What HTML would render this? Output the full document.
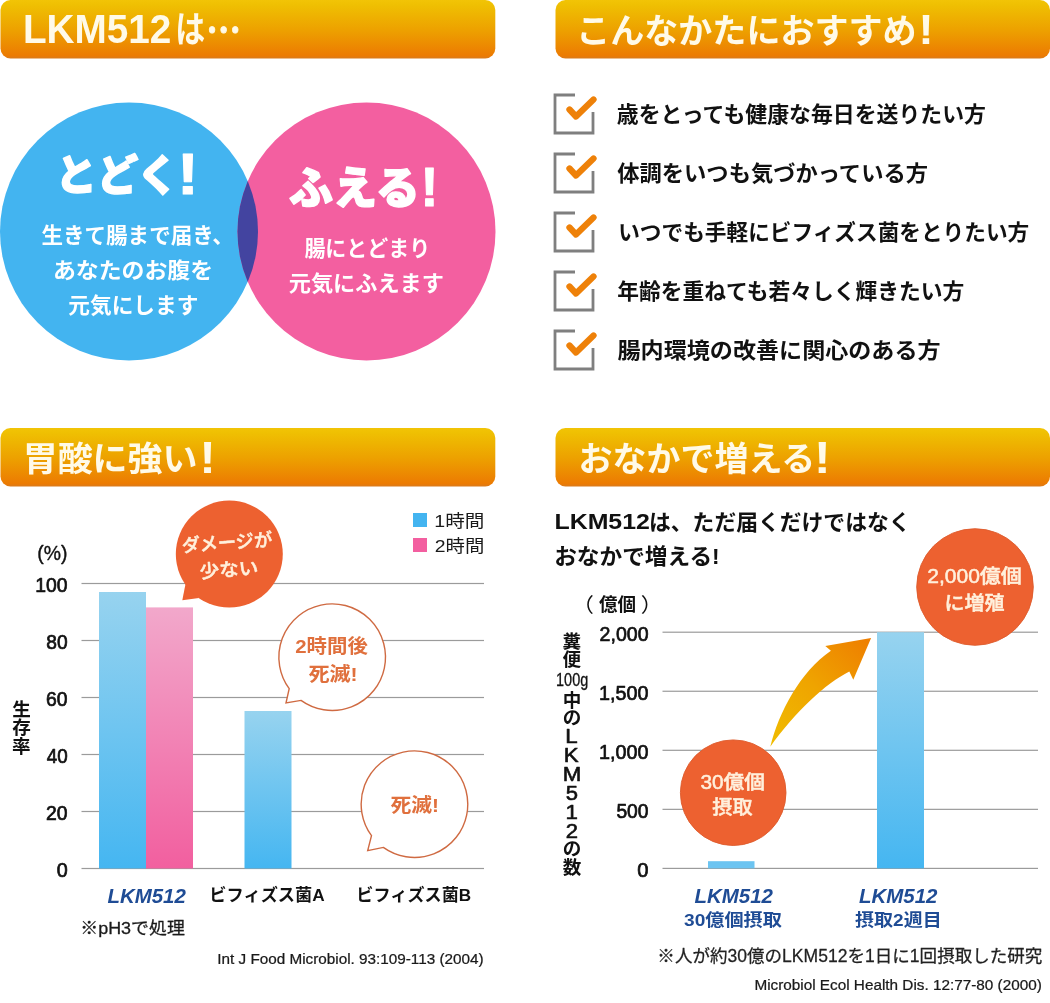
<!DOCTYPE html>
<html lang="ja">
<head>
<meta charset="utf-8">
<title>LKM512</title>
<style>
html,body{margin:0;padding:0;background:#fff;}
body{width:1050px;height:1003px;overflow:hidden;}
svg{display:block;font-family:"Liberation Sans", "Noto Sans CJK JP", sans-serif;}
text{white-space:pre;}
</style>
</head>
<body>
<svg width="1050" height="1003" viewBox="0 0 1050 1003">
<defs>
<linearGradient id="gh" x1="0" y1="0" x2="0" y2="1">
<stop offset="0" stop-color="#f2c406"/><stop offset="0.08" stop-color="#efc002"/><stop offset="0.5" stop-color="#eda200"/><stop offset="0.95" stop-color="#ec7b02"/><stop offset="1" stop-color="#d97a1c"/>
</linearGradient>
<linearGradient id="gb" x1="0" y1="0" x2="0" y2="1">
<stop offset="0" stop-color="#97d3ef"/><stop offset="1" stop-color="#45b6f1"/>
</linearGradient>
<linearGradient id="gp" x1="0" y1="0" x2="0" y2="1">
<stop offset="0" stop-color="#f2a8cb"/><stop offset="1" stop-color="#f25f9f"/>
</linearGradient>
<linearGradient id="ga" gradientUnits="userSpaceOnUse" x1="770" y1="747" x2="871" y2="638">
<stop offset="0" stop-color="#f0bd00"/><stop offset="0.5" stop-color="#efa400"/><stop offset="1" stop-color="#ee7d00"/>
</linearGradient>
<clipPath id="cpink"><circle cx="366.5" cy="231.5" r="129"/></clipPath>
</defs>
<rect x="0.5" y="0" width="494.8" height="58.5" rx="10" fill="url(#gh)"/>
<rect x="555.5" y="0" width="494.5" height="58.5" rx="10" fill="url(#gh)"/>
<rect x="0.5" y="428" width="494.8" height="58.5" rx="10" fill="url(#gh)"/>
<rect x="555.5" y="428" width="494.5" height="58.5" rx="10" fill="url(#gh)"/>
<text><tspan x="22.98" y="43.49" font-size="40.85" textLength="148.42" lengthAdjust="spacingAndGlyphs" fill="#fffae8" font-weight="700">LKM512</tspan><tspan x="175.31" y="43.26" font-size="37.04" textLength="29.89" lengthAdjust="spacingAndGlyphs" fill="#fffae8" font-weight="700">は</tspan><tspan x="206.34" y="44.6" font-size="40" textLength="34.82" lengthAdjust="spacingAndGlyphs" fill="#fffae8" font-weight="700" stroke="#fffae8" stroke-width="0.8" stroke-linejoin="round" font-family='"Noto Sans CJK JP", sans-serif'>…</tspan></text>
<text><tspan x="576.3" y="42.55" font-size="34.36" textLength="340.18" lengthAdjust="spacingAndGlyphs" fill="#fffae8" font-weight="700">こんなかたにおすすめ</tspan><tspan x="918.52" y="43.9" font-size="42.03" textLength="15.1" lengthAdjust="spacingAndGlyphs" fill="#fffae8" font-weight="700">!</tspan></text>
<text><tspan x="22.68" y="471.15" font-size="33.54" textLength="174.84" lengthAdjust="spacingAndGlyphs" fill="#fffae8" font-weight="700">胃酸に強い</tspan><tspan x="199.62" y="473.2" font-size="44.06" textLength="16.21" lengthAdjust="spacingAndGlyphs" fill="#fffae8" font-weight="700">!</tspan></text>
<text><tspan x="578.49" y="470.66" font-size="34.14" textLength="236.87" lengthAdjust="spacingAndGlyphs" fill="#fffae8" font-weight="700">おなかで増える</tspan><tspan x="814" y="472.7" font-size="44.06" textLength="16.65" lengthAdjust="spacingAndGlyphs" fill="#fffae8" font-weight="700">!</tspan></text>
<circle cx="129" cy="231.5" r="129" fill="#43b4f0"/>
<circle cx="366.5" cy="231.5" r="129" fill="#f35fa0"/>
<circle cx="129" cy="231.5" r="129" fill="#4344a0" clip-path="url(#cpink)"/>
<text><tspan x="55.55" y="191.18" font-size="43.33" textLength="122.76" lengthAdjust="spacingAndGlyphs" fill="#fff" font-weight="900" stroke="#fff" stroke-width="1.4" stroke-linejoin="round">とどく</tspan><tspan x="177.34" y="194" font-size="57.25" textLength="21.31" lengthAdjust="spacingAndGlyphs" fill="#fff" font-weight="700" stroke="#fff" stroke-width="1" stroke-linejoin="round">!</tspan></text>
<text transform="translate(41.46 243.07) scale(1.0020 1)" font-size="21.5" fill="#fff" font-weight="700">生きて腸まで届き、</text>
<text transform="translate(52.94 278.42) scale(1.0647 1)" font-size="21.5" fill="#fff" font-weight="700">あなたのお腹を</text>
<text transform="translate(68.35 313.26) scale(1.0082 1)" font-size="21.5" fill="#fff" font-weight="700">元気にします</text>
<text><tspan x="288.93" y="203.8" font-size="44.22" textLength="130.77" lengthAdjust="spacingAndGlyphs" fill="#fff" font-weight="900" stroke="#fff" stroke-width="1.4" stroke-linejoin="round">ふえる</tspan><tspan x="420.44" y="206.3" font-size="55.94" textLength="17.98" lengthAdjust="spacingAndGlyphs" fill="#fff" font-weight="700" stroke="#fff" stroke-width="1" stroke-linejoin="round">!</tspan></text>
<text transform="translate(304.38 255.86) scale(0.9759 1)" font-size="21.5" fill="#fff" font-weight="700">腸にとどまり</text>
<text transform="translate(288.73 291.26) scale(1.0319 1)" font-size="21.5" fill="#fff" font-weight="700">元気にふえます</text>
<path d="M575,95 H555 V133 H593 V112" fill="none" stroke="#7f7f7f" stroke-width="2.8"/>
<path d="M569.5,109.5 L576,116.5 L593.5,99.5" fill="none" stroke="#ee8109" stroke-width="6.3" stroke-linecap="round" stroke-linejoin="round"/>
<text transform="translate(616.86 121.98) scale(1.0044 1)" font-size="21.8" fill="#111" font-weight="700">歳をとっても健康な毎日を送りたい方</text>
<path d="M575,154 H555 V192 H593 V171" fill="none" stroke="#7f7f7f" stroke-width="2.8"/>
<path d="M569.5,168.5 L576,175.5 L593.5,158.5" fill="none" stroke="#ee8109" stroke-width="6.3" stroke-linecap="round" stroke-linejoin="round"/>
<text transform="translate(617.28 180.88) scale(1.0220 1)" font-size="21.8" fill="#111" font-weight="700">体調をいつも気づかっている方</text>
<path d="M575,213 H555 V251 H593 V230" fill="none" stroke="#7f7f7f" stroke-width="2.8"/>
<path d="M569.5,227.5 L576,234.5 L593.5,217.5" fill="none" stroke="#ee8109" stroke-width="6.3" stroke-linecap="round" stroke-linejoin="round"/>
<text transform="translate(618.22 240.09) scale(0.9941 1)" font-size="21.8" fill="#111" font-weight="700">いつでも手軽にビフィズス菌をとりたい方</text>
<path d="M575,272 H555 V310 H593 V289" fill="none" stroke="#7f7f7f" stroke-width="2.8"/>
<path d="M569.5,286.5 L576,293.5 L593.5,276.5" fill="none" stroke="#ee8109" stroke-width="6.3" stroke-linecap="round" stroke-linejoin="round"/>
<text transform="translate(617.24 298.98) scale(0.9987 1)" font-size="21.8" fill="#111" font-weight="700">年齢を重ねても若々しく輝きたい方</text>
<path d="M575,331 H555 V369 H593 V348" fill="none" stroke="#7f7f7f" stroke-width="2.8"/>
<path d="M569.5,345.5 L576,352.5 L593.5,335.5" fill="none" stroke="#ee8109" stroke-width="6.3" stroke-linecap="round" stroke-linejoin="round"/>
<text transform="translate(617.54 357.98) scale(1.0593 1)" font-size="21.8" fill="#111" font-weight="700">腸内環境の改善に関心のある方</text>
<rect x="81.5" y="582.9" width="402.5" height="1.2" fill="#9b9b9b"/>
<text transform="translate(35.3 591.65) scale(0.9496 1)" font-size="20.42" fill="#111" stroke="#111" stroke-width="0.7" stroke-linejoin="round">100</text>
<rect x="81.5" y="639.9" width="402.5" height="1.2" fill="#9b9b9b"/>
<text transform="translate(46.28 648.65) scale(0.9470 1)" font-size="20.28" fill="#111" stroke="#111" stroke-width="0.7" stroke-linejoin="round">80</text>
<rect x="81.5" y="696.9" width="402.5" height="1.2" fill="#9b9b9b"/>
<text transform="translate(46.08 705.65) scale(0.9496 1)" font-size="20.42" fill="#111" stroke="#111" stroke-width="0.7" stroke-linejoin="round">60</text>
<rect x="81.5" y="753.9" width="402.5" height="1.2" fill="#9b9b9b"/>
<text transform="translate(46.67 762.65) scale(0.9226 1)" font-size="20.42" fill="#111" stroke="#111" stroke-width="0.7" stroke-linejoin="round">40</text>
<rect x="81.5" y="810.9" width="402.5" height="1.2" fill="#9b9b9b"/>
<text transform="translate(46.08 819.65) scale(0.9496 1)" font-size="20.42" fill="#111" stroke="#111" stroke-width="0.7" stroke-linejoin="round">20</text>
<rect x="81.5" y="867.9" width="402.5" height="1.2" fill="#9b9b9b"/>
<text transform="translate(56.66 876.65) scale(0.9692 1)" font-size="20.42" fill="#111" stroke="#111" stroke-width="0.7" stroke-linejoin="round">0</text>
<text transform="translate(37.34 560.24) scale(0.9323 1)" font-size="20.75" fill="#111" stroke="#111" stroke-width="0.4" stroke-linejoin="round">(%)</text>
<rect x="99" y="592" width="47" height="276.5" fill="url(#gb)"/>
<rect x="146" y="607.4" width="47" height="261.1" fill="url(#gp)"/>
<rect x="244.5" y="711" width="47" height="157.5" fill="url(#gb)"/>
<rect x="413" y="513" width="14" height="14" fill="#43b4f0"/>
<rect x="413" y="538" width="14" height="14" fill="#f35fa0"/>
<text transform="translate(434.23 526.54) scale(1.1402 1)" font-size="17.2" fill="#1a1a1a">1時間</text>
<text transform="translate(434.73 551.84) scale(1.1284 1)" font-size="17.2" fill="#1a1a1a">2時間</text>
<text><tspan x="12.19" y="715.95" font-size="18.6" textLength="18.6" lengthAdjust="spacingAndGlyphs" fill="#111" font-weight="700">生</tspan><tspan x="12.19" y="734.27" font-size="18.6" textLength="18.6" lengthAdjust="spacingAndGlyphs" fill="#111" font-weight="700">存</tspan><tspan x="12.05" y="752.87" font-size="18.6" textLength="18.6" lengthAdjust="spacingAndGlyphs" fill="#111" font-weight="700">率</tspan></text>
<path d="M182.3,600.3 L185.5,584 L199,598 Z" fill="#ed6130"/><circle cx="229.3" cy="554.1" r="53.5" fill="#ed6130"/>
<g transform="rotate(-4 229 554)"><text transform="translate(182.42 549.01) scale(0.9913 1)" font-size="18.5" fill="#fff0dc" font-weight="500" stroke="#fff0dc" stroke-width="0.5" stroke-linejoin="round">ダメージが</text><text transform="translate(198.67 576.13) scale(1.0531 1)" font-size="18.5" fill="#fff0dc" font-weight="500" stroke="#fff0dc" stroke-width="0.5" stroke-linejoin="round">少ない</text></g>
<path d="M289.2,688.7 A53.3,53.3 0 1 1 301.0,700.4 L286,703 Z" fill="#fff" stroke="#cf6a42" stroke-width="1.4" stroke-linejoin="miter"/>
<path d="M371.5,835.7 A53.3,53.3 0 1 1 383.3,847.4 L367.7,850.7 Z" fill="#fff" stroke="#cf6a42" stroke-width="1.4" stroke-linejoin="miter"/>
<text transform="translate(295.19 652.92) scale(1.0763 1)" font-size="19" fill="#e0703d" font-weight="700">2時間後</text>
<text transform="translate(308.38 680.87) scale(1.1118 1)" font-size="19" fill="#e0703d" font-weight="700">死滅!</text>
<text transform="translate(390.39 811.67) scale(1.0952 1)" font-size="19" fill="#e0703d" font-weight="700">死滅!</text>
<text transform="translate(107.39 902.79) scale(0.9682 1)" font-size="21.13" fill="#1f4c95" font-weight="700" font-style="italic">LKM512</text>
<text transform="translate(209.33 900.97) scale(1.0019 1)" font-size="17.2" fill="#111" font-weight="700">ビフィズス菌A</text>
<text transform="translate(356.34 900.97) scale(0.9969 1)" font-size="17.2" fill="#111" font-weight="700">ビフィズス菌B</text>
<text transform="translate(80.23 934.1) scale(1.0552 1)" font-size="17" fill="#1a1a1a" stroke="#1a1a1a" stroke-width="0.3" stroke-linejoin="round">※pH3で処理</text>
<text transform="translate(217.35 964.36) scale(1.0194 1)" font-size="15" fill="#1a1a1a" stroke="#1a1a1a" stroke-width="0.25" stroke-linejoin="round">Int J Food Microbiol. 93:109-113 (2004)</text>
<text><tspan x="554.48" y="529.37" font-size="22.82" textLength="95.42" lengthAdjust="spacingAndGlyphs" fill="#111" font-weight="700">LKM512</tspan><tspan x="649.04" y="529.53" font-size="22" textLength="261.5" lengthAdjust="spacingAndGlyphs" fill="#111" font-weight="700">は、ただ届くだけではなく</tspan></text>
<text transform="translate(554.19 563.91) scale(1.0303 1)" font-size="22" fill="#111" font-weight="700">おなかで増える!</text>
<text><tspan x="572.1" y="611.91" font-size="19.9" textLength="21.89" lengthAdjust="spacingAndGlyphs" fill="#111">（</tspan><tspan x="599.01" y="611.25" font-size="18.41" textLength="37.1" lengthAdjust="spacingAndGlyphs" fill="#111" font-weight="700">億個</tspan><tspan x="640.71" y="611.91" font-size="19.9" textLength="21.92" lengthAdjust="spacingAndGlyphs" fill="#111">）</tspan></text>
<rect x="662.5" y="631.6" width="375.5" height="1.2" fill="#9b9b9b"/>
<text transform="translate(599.57 640.82) scale(0.9671 1)" font-size="20.24" fill="#111" stroke="#111" stroke-width="0.7" stroke-linejoin="round">2,000</text>
<rect x="662.5" y="690.65" width="375.5" height="1.2" fill="#9b9b9b"/>
<text transform="translate(599.07 699.87) scale(0.9772 1)" font-size="20.24" fill="#111" stroke="#111" stroke-width="0.7" stroke-linejoin="round">1,500</text>
<rect x="662.5" y="749.7" width="375.5" height="1.2" fill="#9b9b9b"/>
<text transform="translate(599.07 758.92) scale(0.9772 1)" font-size="20.24" fill="#111" stroke="#111" stroke-width="0.7" stroke-linejoin="round">1,000</text>
<rect x="662.5" y="808.75" width="375.5" height="1.2" fill="#9b9b9b"/>
<text transform="translate(616.38 817.7) scale(0.9708 1)" font-size="19.86" fill="#111" stroke="#111" stroke-width="0.7" stroke-linejoin="round">500</text>
<rect x="662.5" y="867.8000000000001" width="375.5" height="1.2" fill="#9b9b9b"/>
<text transform="translate(637.34 876.75) scale(1.0175 1)" font-size="19.86" fill="#111" stroke="#111" stroke-width="0.7" stroke-linejoin="round">0</text>
<rect x="877" y="632.2" width="47" height="236.2" fill="url(#gb)"/>
<rect x="708" y="861.2" width="46.5" height="7.2" fill="#6cc4f1"/>
<path d="M770.3,746.7 C779,712 800,672 830.9,650.7 L825.3,645.9 L871.1,637.9 L853.3,679.7 L849.3,671.4 C826,683 795,712 770.3,746.7 Z" fill="url(#ga)"/>
<circle cx="733.2" cy="792.7" r="52.8" fill="#ed6130" stroke="#de5b2c" stroke-width="0.9"/>
<circle cx="975" cy="587" r="58.3" fill="#ed6130" stroke="#de5b2c" stroke-width="0.9"/>
<text transform="translate(700.52 789.1) scale(1.0586 1)" font-size="19.6" fill="#fff0dc" font-weight="500" stroke="#fff0dc" stroke-width="0.5" stroke-linejoin="round">30億個</text>
<text transform="translate(712.35 814.4) scale(1.0256 1)" font-size="19.6" fill="#fff0dc" font-weight="500" stroke="#fff0dc" stroke-width="0.5" stroke-linejoin="round">摂取</text>
<text transform="translate(927.2 583.41) scale(1.0733 1)" font-size="19.6" fill="#fff0dc" font-weight="500" stroke="#fff0dc" stroke-width="0.5" stroke-linejoin="round">2,000億個</text>
<text transform="translate(944.55 610.4) scale(1.0222 1)" font-size="19.6" fill="#fff0dc" font-weight="500" stroke="#fff0dc" stroke-width="0.5" stroke-linejoin="round">に増殖</text>
<text><tspan x="562.61" y="648.07" font-size="18.6" textLength="18.6" lengthAdjust="spacingAndGlyphs" fill="#111" font-weight="700">糞</tspan><tspan x="562.61" y="666.02" font-size="18.6" textLength="18.6" lengthAdjust="spacingAndGlyphs" fill="#111" font-weight="700">便</tspan><tspan x="556.07" y="685.89" font-size="17.91" textLength="32.17" lengthAdjust="spacingAndGlyphs" fill="#111" stroke="#111" stroke-width="0.3" stroke-linejoin="round">100g</tspan><tspan x="562.7" y="707.07" font-size="18.6" textLength="18.6" lengthAdjust="spacingAndGlyphs" fill="#111" font-weight="700">中</tspan><tspan x="562.79" y="724.46" font-size="18.6" textLength="18.6" lengthAdjust="spacingAndGlyphs" fill="#111" font-weight="700">の</tspan><tspan x="565.25" y="742.5" font-size="20.29" textLength="12.41" lengthAdjust="spacingAndGlyphs" fill="#111" stroke="#111" stroke-width="0.6" stroke-linejoin="round">L</tspan><tspan x="563.74" y="762" font-size="20.29" textLength="14.89" lengthAdjust="spacingAndGlyphs" fill="#111" stroke="#111" stroke-width="0.6" stroke-linejoin="round">K</tspan><tspan x="562.68" y="780.5" font-size="20.29" textLength="18.59" lengthAdjust="spacingAndGlyphs" fill="#111" stroke="#111" stroke-width="0.6" stroke-linejoin="round">M</tspan><tspan x="565.89" y="799.8" font-size="20" textLength="12.24" lengthAdjust="spacingAndGlyphs" fill="#111" stroke="#111" stroke-width="0.6" stroke-linejoin="round">5</tspan><tspan x="565.47" y="818.5" font-size="20.29" textLength="12.41" lengthAdjust="spacingAndGlyphs" fill="#111" stroke="#111" stroke-width="0.6" stroke-linejoin="round">1</tspan><tspan x="565.84" y="838" font-size="20" textLength="12.24" lengthAdjust="spacingAndGlyphs" fill="#111" stroke="#111" stroke-width="0.6" stroke-linejoin="round">2</tspan><tspan x="562.79" y="854.96" font-size="18.6" textLength="18.6" lengthAdjust="spacingAndGlyphs" fill="#111" font-weight="700">の</tspan><tspan x="562.65" y="874.02" font-size="18.6" textLength="18.6" lengthAdjust="spacingAndGlyphs" fill="#111" font-weight="700">数</tspan></text>
<text transform="translate(694.49 902.6) scale(1.0300 1)" font-size="19.86" fill="#1f4c95" font-weight="700" font-style="italic">LKM512</text>
<text transform="translate(858.99 902.6) scale(1.0313 1)" font-size="19.86" fill="#1f4c95" font-weight="700" font-style="italic">LKM512</text>
<text transform="translate(684.02 925.86) scale(1.1002 1)" font-size="17.38" fill="#1f4c95" font-weight="700">30億個摂取</text>
<text transform="translate(855.12 925.86) scale(1.0940 1)" font-size="17.38" fill="#1f4c95" font-weight="700">摂取2週目</text>
<text transform="translate(657.36 961.9) scale(1.0029 1)" font-size="17.5" fill="#222" stroke="#222" stroke-width="0.25" stroke-linejoin="round">※人が約30億のLKM512を1日に1回摂取した研究</text>
<text transform="translate(754.4 989.56) scale(1.0212 1)" font-size="15" fill="#1a1a1a" stroke="#1a1a1a" stroke-width="0.25" stroke-linejoin="round">Microbiol Ecol Health Dis. 12:77-80 (2000)</text>
</svg>
</body>
</html>
